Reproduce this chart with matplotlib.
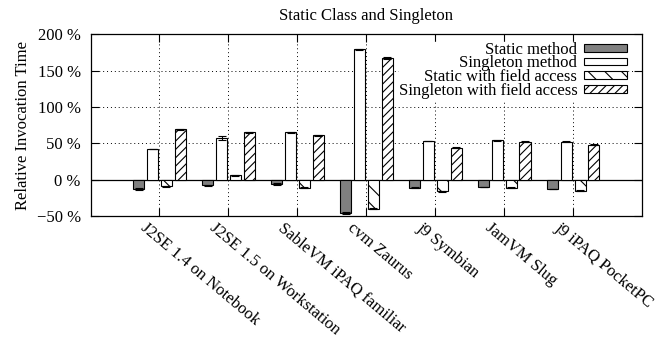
#! /usr/bin/env python
#
#  Static class vs singleton invocation time, relative, per VM
#

import numpy as np
import matplotlib.pyplot as plt

plt.rcParams['font.family'] = ['Liberation Serif', 'DejaVu Serif']
plt.rcParams['hatch.linewidth'] = 0.8

vms = ['J2SE 1.4 on Notebook', 'J2SE 1.5 on Workstation', 'SableVM iPAQ familiar',
       'cvm Zaurus', 'j9 Symbian', 'JamVM Slug', 'j9 iPAQ PocketPC']

static_m      = [-13, -8, -6, -46, -11, -10, -13]
singleton_m   = [42, 57, 65, 179, 53, 54, 52]
static_f      = [-9, 6, -11, -40, -16, -11, -15]
singleton_f   = [69, 65, 61, 167, 44, 52, 48]

static_m_err    = [1, 1, 1, 1.5, 0.5, 0.5, 0.5]
singleton_m_err = [0.5, 3, 0.5, 1, 0.5, 0.5, 0.5]
static_f_err    = [0.5, 0.5, 0.5, 1, 0.5, 0.5, 0.5]
singleton_f_err = [1, 1, 0.5, 1, 0.5, 0.5, 0.5]

labels = ['Static method', 'Singleton method', 'Static with field access',
          'Singleton with field access']
yticks = [-50, 0, 50, 100, 150, 200]

fs = 12
fig = plt.figure(figsize=(6.56, 3.38), dpi=100)
ax = fig.add_axes([0.138, 0.361, 0.841, 0.538])

x = np.arange(len(vms))
w = 0.16
series = [(static_m, static_m_err, '#808080', None),
          (singleton_m, singleton_m_err, 'white', None),
          (static_f, static_f_err, 'white', '\\\\'),
          (singleton_f, singleton_f_err, 'white', '////')]
offs = [-0.3, -0.1, 0.1, 0.3]

for (vals, err, col, hat), off, lab in zip(series, offs, labels):
    ax.bar(x + off, vals, w, color=col, edgecolor='black', linewidth=0.8,
           hatch=hat, label=lab, zorder=3)
    ax.errorbar(x + off, vals, yerr=err, fmt='none', ecolor='black',
                elinewidth=0.8, capsize=3, capthick=0.8, zorder=4)

ax.axhline(0, color='black', lw=0.9, zorder=2)
ax.set_xlim(-1, 7)
ax.set_ylim(-50, 200)
ax.set_yticks(yticks)
ax.set_yticklabels([('%d %%' % v).replace('-', '\u2212') for v in yticks], fontsize=fs)
ax.set_xticks(x)
ax.set_xticklabels([])
# rotated labels, gnuplot style (start just left of the tick)
for xi, name in zip(x, vms):
    ax.annotate(name, xy=(xi, 0), xycoords=('data', 'axes fraction'),
                xytext=(-12, -4), textcoords='offset pixels',
                rotation=-40, rotation_mode='anchor', ha='left', va='top',
                fontsize=fs)

ax.tick_params(direction='in', length=6, width=0.8, top=True, right=True)
ax.tick_params(axis='y', pad=7)
ax.grid(True, linestyle=(0, (1, 3)), color='black', lw=0.7, zorder=1)
for s in ax.spines.values():
    s.set_linewidth(0.9)

ax.set_ylabel('Relative Invocation Time', fontsize=fs)
ax.set_title('Static Class and Singleton', fontsize=fs, pad=10)

leg = ax.legend(loc='upper right', bbox_to_anchor=(0.973, 0.958), frameon=True,
                fancybox=False, markerfirst=False, handlelength=2.58,
                handleheight=0.35, labelspacing=-0.14, fontsize=fs,
                borderpad=0.0, handletextpad=0.42, borderaxespad=0)
leg.get_frame().set_edgecolor('white')
leg.get_frame().set_facecolor('white')
leg.get_frame().set_alpha(1)
for t in leg.get_texts():
    t.set_ha('right')
leg.set_zorder(5)

plt.savefig('out.png', dpi=100)
